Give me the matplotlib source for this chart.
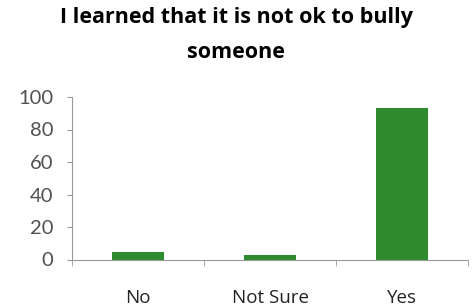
import numpy as np
import matplotlib.pyplot as plt

categories = ["No", "Not Sure", "Yes"]
values = [4.4, 3.0, 93.0]
yticks = [0, 20, 40, 60, 80, 100]

fig = plt.figure(figsize=(4.72, 3.08), dpi=100)
ax = fig.add_axes([72/472, 1 - 259.5/308, 396/472, 162.5/308])

x = np.arange(len(categories))
ax.bar(x, values, width=0.4, color="#2e8b2e")

ax.set_xlim(-0.5, len(categories) - 0.5)
ax.set_ylim(0, 100)
ax.set_yticks(yticks)
ax.set_yticklabels([str(v) for v in yticks], fontsize=14.5, color="#505050",
                   family="Lato")
ax.set_xticks(x)
ax.set_xticklabels(categories, fontsize=13.5, color="#222222", family="Open Sans")
ax.tick_params(axis="x", length=0, pad=21)
ax.tick_params(axis="y", length=3.6, color="#999999", pad=10)

# category boundary ticks on the x axis
ax.set_xticks(np.arange(-0.5, len(categories)), minor=True)
ax.tick_params(axis="x", which="minor", length=4.5, color="#999999")

for s in ["top", "right"]:
    ax.spines[s].set_visible(False)
for s in ["left", "bottom"]:
    ax.spines[s].set_color("#999999")

fig.text(0.5, 1 - 18/308, "I learned that it is not ok to bully", ha="center",
         va="center", fontsize=15.5, fontweight="bold", family="Open Sans")
fig.text(0.5, 1 - 52/308, "someone", ha="center",
         va="center", fontsize=15.5, fontweight="bold", family="Open Sans")

fig.savefig("out.png", dpi=100)
